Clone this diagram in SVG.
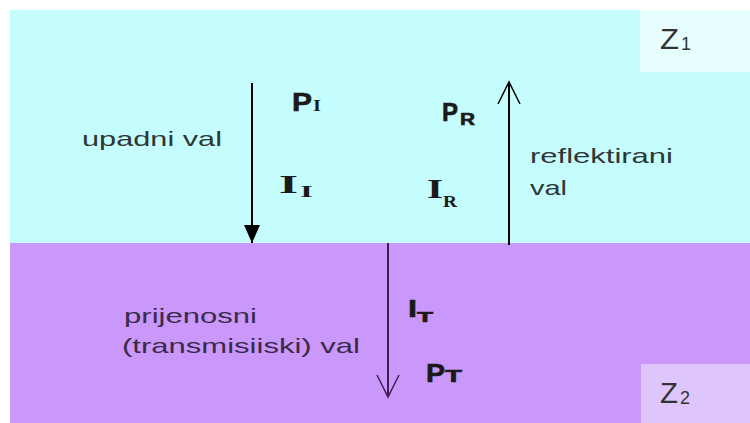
<svg xmlns="http://www.w3.org/2000/svg" width="750" height="423" viewBox="0 0 750 423">
<style>
.lbl{font-family:"Liberation Sans",Arial,sans-serif;font-size:21px;fill:#2e3636}
.lblp{font-family:"Liberation Sans",Arial,sans-serif;font-size:21px;fill:#3a2a4c}
.sb{font-family:"Liberation Sans",Arial,sans-serif;font-weight:bold;fill:#1a1a1a;stroke:#1a1a1a;stroke-width:0.6}
.sr{font-family:"Liberation Serif","Times New Roman",serif;font-weight:bold;fill:#1a1a1a}
.z{font-family:"Liberation Sans",Arial,sans-serif;fill:#333}
</style>
<defs>
<marker id="fill" viewBox="0 0 18 16" refX="18" refY="8" markerWidth="18" markerHeight="16" markerUnits="userSpaceOnUse" orient="auto">
<path d="M0,0 L18,8 L0,16 z" fill="#000"/>
</marker>
<marker id="vopen" viewBox="-2 -2 26 26" refX="22" refY="11" markerWidth="26" markerHeight="26" markerUnits="userSpaceOnUse" orient="auto">
<path d="M0,0 L22,11 L0,22" fill="none" stroke="#000" stroke-width="1.5"/>
</marker>
<marker id="vopenp" viewBox="-2 -2 26 26" refX="22" refY="11" markerWidth="26" markerHeight="26" markerUnits="userSpaceOnUse" orient="auto">
<path d="M0,0 L22,11 L0,22" fill="none" stroke="#3b2152" stroke-width="1.5"/>
</marker>
</defs>
<rect width="750" height="423" fill="#fff"/>
<g id="medium1">
<rect x="10" y="10" width="740" height="233" fill="#C5FCFD"/>
<rect x="640" y="10" width="110" height="62" fill="#E6FEFE"/>
<text class="z" x="660" y="49" font-size="30" textLength="19" lengthAdjust="spacingAndGlyphs">Z</text>
<text class="z" x="681" y="50" font-size="18">1</text>
</g>
<g id="medium2">
<rect x="10" y="243" width="740" height="180" fill="#CA98FA"/>
<rect x="641" y="364" width="109" height="59" fill="#DEC6FC"/>
<text class="z" x="660" y="403" font-size="30" textLength="18" lengthAdjust="spacingAndGlyphs">Z</text>
<text class="z" x="680" y="404" font-size="18">2</text>
</g>
<g id="connectors">
<line x1="252" y1="83" x2="252" y2="243" stroke="#000" stroke-width="2" marker-end="url(#fill)"/>
<line x1="509" y1="245" x2="509" y2="82" stroke="#000" stroke-width="2" marker-end="url(#vopen)"/>
<line x1="388" y1="243" x2="388" y2="397" stroke="#3b2152" stroke-width="2" marker-end="url(#vopenp)"/>
</g>
<g id="incident">
<text class="lbl" x="82" y="146" textLength="140" lengthAdjust="spacingAndGlyphs">upadni val</text>
<text class="sb" x="292" y="111" font-size="25" textLength="20" lengthAdjust="spacingAndGlyphs">P</text>
<text class="sr" x="313" y="111" font-size="16" textLength="8" lengthAdjust="spacingAndGlyphs">I</text>
<text class="sr" x="279" y="193" font-size="26" textLength="19" lengthAdjust="spacingAndGlyphs">I</text>
<text class="sr" x="300" y="197" font-size="17" textLength="13" lengthAdjust="spacingAndGlyphs">I</text>
</g>
<g id="reflected">
<text class="lbl" x="530" y="163" textLength="143" lengthAdjust="spacingAndGlyphs">reflektirani</text>
<text class="lbl" x="530" y="195" textLength="37" lengthAdjust="spacingAndGlyphs">val</text>
<text class="sb" x="442" y="121" font-size="25" textLength="16" lengthAdjust="spacingAndGlyphs">P</text>
<text class="sb" x="460" y="125" font-size="16" textLength="15" lengthAdjust="spacingAndGlyphs">R</text>
<text class="sr" x="427" y="198" font-size="27" font-weight="normal" textLength="16" lengthAdjust="spacingAndGlyphs">I</text>
<text class="sr" x="443" y="207" font-size="17" font-weight="normal" textLength="14" lengthAdjust="spacingAndGlyphs">R</text>
</g>
<g id="transmitted">
<text class="lblp" x="124" y="323" textLength="133" lengthAdjust="spacingAndGlyphs">prijenosni</text>
<text class="lblp" x="122" y="353" textLength="238" lengthAdjust="spacingAndGlyphs">(transmisiiski) val</text>
<text class="sb" x="408" y="317" font-size="24" fill="#1e1428" textLength="9" lengthAdjust="spacingAndGlyphs">I</text>
<text class="sb" x="417" y="322" font-size="14" fill="#1e1428" textLength="16" lengthAdjust="spacingAndGlyphs">T</text>
<text class="sb" x="426" y="382" font-size="26" fill="#1e1428" textLength="19" lengthAdjust="spacingAndGlyphs">P</text>
<text class="sb" x="445" y="382" font-size="17" fill="#1e1428" textLength="17" lengthAdjust="spacingAndGlyphs">T</text>
</g>
</svg>
